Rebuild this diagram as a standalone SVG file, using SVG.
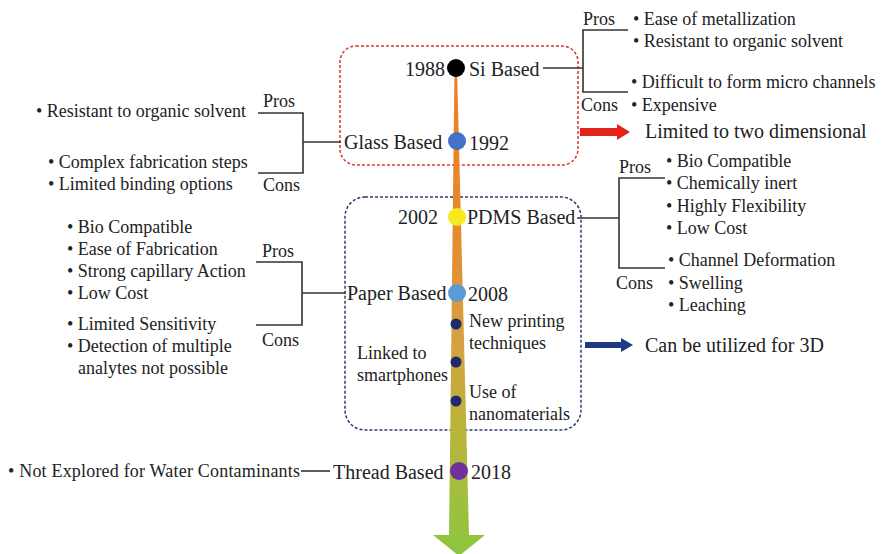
<svg xmlns="http://www.w3.org/2000/svg" width="882" height="554" viewBox="0 0 882 554">
  <defs>
    <linearGradient id="trunk" x1="0" y1="60" x2="0" y2="556" gradientUnits="userSpaceOnUse">
      <stop offset="0" stop-color="#F07E1F"/>
      <stop offset="0.35" stop-color="#E58A2E"/>
      <stop offset="0.55" stop-color="#D7A040"/>
      <stop offset="0.72" stop-color="#BDB23A"/>
      <stop offset="0.85" stop-color="#A6BE3C"/>
      <stop offset="1" stop-color="#8CC63F"/>
    </linearGradient>
  </defs>
  <style>
    text { font-family: "Liberation Serif", "Times New Roman", serif; fill: #222; }
    .era { font-size: 20px; }
    .item { font-size: 18px; }
    .tag { font-size: 18px; }
    .note { font-size: 20px; }
    .wire { fill: none; stroke: #333; stroke-width: 1.6; }
    .frame-red { fill: none; stroke: #D93A35; stroke-width: 1.5; stroke-dasharray: 3 2; }
    .frame-blue { fill: none; stroke: #2E3A6E; stroke-width: 1.5; stroke-dasharray: 3 2; }
  </style>

  <rect width="882" height="554" fill="#fff"/>

  <!-- era frames -->
  <rect class="frame-red" x="340" y="46" width="238" height="119" rx="16"/>
  <rect class="frame-blue" x="345" y="197" width="236" height="233" rx="20"/>

  <!-- timeline trunk with arrowhead -->
  <polygon id="timeline" fill="url(#trunk)"
    points="454.5,68 457,68 469,535 485,535 459,556 433,535 449,535"/>

  <!-- connectors -->
  <g id="connectors">
    <!-- Si Based -->
    <polyline class="wire" points="543,68 583,68"/>
    <polyline class="wire" points="628,30 583,30 583,92 628,92"/>
    <!-- Glass Based -->
    <polyline class="wire" points="303,142 341,142"/>
    <polyline class="wire" points="258,113 303,113 303,173 258,173"/>
    <!-- PDMS Based -->
    <polyline class="wire" points="577,218 619,218"/>
    <polyline class="wire" points="665,178 619,178 619,268 665,268"/>
    <!-- Paper Based -->
    <polyline class="wire" points="302,293 346,293"/>
    <polyline class="wire" points="256,262 302,262 302,325 256,325"/>
    <!-- Thread Based -->
    <line class="wire" x1="301" y1="471" x2="330" y2="471"/>
    <!-- outcome arrows -->
    <polygon fill="#E2231A" points="580,128 617,128 617,124 630,132 617,140 617,136 580,136"/>
    <polygon fill="#1F3A85" points="585,342 621,342 621,338 633,345 621,352 621,348 585,348"/>
  </g>

  <!-- Si Based -->
  <g id="node-si">
    <circle cx="456" cy="68" r="9" fill="#000"/>
    <text class="era" x="445" y="76" text-anchor="end">1988</text>
    <text class="era" x="469" y="76">Si Based</text>
    <text class="tag" x="583" y="25">Pros</text>
    <text class="tag" x="581" y="111">Cons</text>
    <text class="item" x="633" y="25">• Ease of metallization</text>
    <text class="item" x="633" y="47">• Resistant to organic solvent</text>
    <text class="item" x="631" y="88">• Difficult to form micro channels</text>
    <text class="item" x="631" y="111">• Expensive</text>
    <text class="note" x="645" y="138">Limited to two dimensional</text>
  </g>

  <!-- Glass Based -->
  <g id="node-glass">
    <circle cx="457" cy="141" r="9" fill="#4472C4"/>
    <text class="era" x="344" y="149">Glass Based</text>
    <text class="era" x="469" y="150">1992</text>
    <text class="tag" x="263" y="107">Pros</text>
    <text class="tag" x="263" y="191">Cons</text>
    <text class="item" x="36" y="117">• Resistant to organic solvent</text>
    <text class="item" x="48" y="168">• Complex fabrication steps</text>
    <text class="item" x="48" y="190">• Limited binding options</text>
  </g>

  <!-- PDMS Based -->
  <g id="node-pdms">
    <circle cx="457" cy="217" r="9" fill="#F7EA1C"/>
    <text class="era" x="438" y="224" text-anchor="end">2002</text>
    <text class="era" x="467" y="224">PDMS Based</text>
    <text class="tag" x="619" y="173">Pros</text>
    <text class="tag" x="616" y="289">Cons</text>
    <text class="item" x="666" y="167">• Bio Compatible</text>
    <text class="item" x="666" y="189">• Chemically inert</text>
    <text class="item" x="666" y="212">• Highly Flexibility</text>
    <text class="item" x="666" y="234">• Low Cost</text>
    <text class="item" x="668" y="266">• Channel Deformation</text>
    <text class="item" x="668" y="289">• Swelling</text>
    <text class="item" x="668" y="311">• Leaching</text>
  </g>

  <!-- Paper Based -->
  <g id="node-paper">
    <circle cx="457" cy="293" r="9" fill="#5B9BD5"/>
    <text class="era" x="347" y="300">Paper Based</text>
    <text class="era" x="468" y="301">2008</text>
    <text class="tag" x="262" y="257">Pros</text>
    <text class="tag" x="262" y="346">Cons</text>
    <text class="item" x="67" y="233">• Bio Compatible</text>
    <text class="item" x="67" y="255">• Ease of Fabrication</text>
    <text class="item" x="67" y="277">• Strong capillary Action</text>
    <text class="item" x="67" y="299">• Low Cost</text>
    <text class="item" x="67" y="330">• Limited Sensitivity</text>
    <text class="item" x="67" y="352">• Detection of multiple</text>
    <text class="item" x="78" y="374">analytes not possible</text>
  </g>

  <!-- Paper era developments -->
  <g id="node-developments">
    <circle cx="456" cy="324" r="5.5" fill="#1E2A6C"/>
    <circle cx="456" cy="362" r="5.5" fill="#1E2A6C"/>
    <circle cx="456" cy="401" r="5.5" fill="#1E2A6C"/>
    <text class="item" x="469" y="327">New printing</text>
    <text class="item" x="469" y="349">techniques</text>
    <text class="item" x="357" y="359">Linked to</text>
    <text class="item" x="357" y="381">smartphones</text>
    <text class="item" x="469" y="398">Use of</text>
    <text class="item" x="469" y="420">nanomaterials</text>
    <text class="note" x="645" y="352">Can be utilized for 3D</text>
  </g>

  <!-- Thread Based -->
  <g id="node-thread">
    <circle cx="459" cy="471" r="9" fill="#7030A0"/>
    <text class="era" x="333" y="479">Thread Based</text>
    <text class="era" x="471" y="479">2018</text>
    <text class="item" x="8" y="477" textLength="292" lengthAdjust="spacing">• Not Explored for Water Contaminants</text>
  </g>
</svg>
